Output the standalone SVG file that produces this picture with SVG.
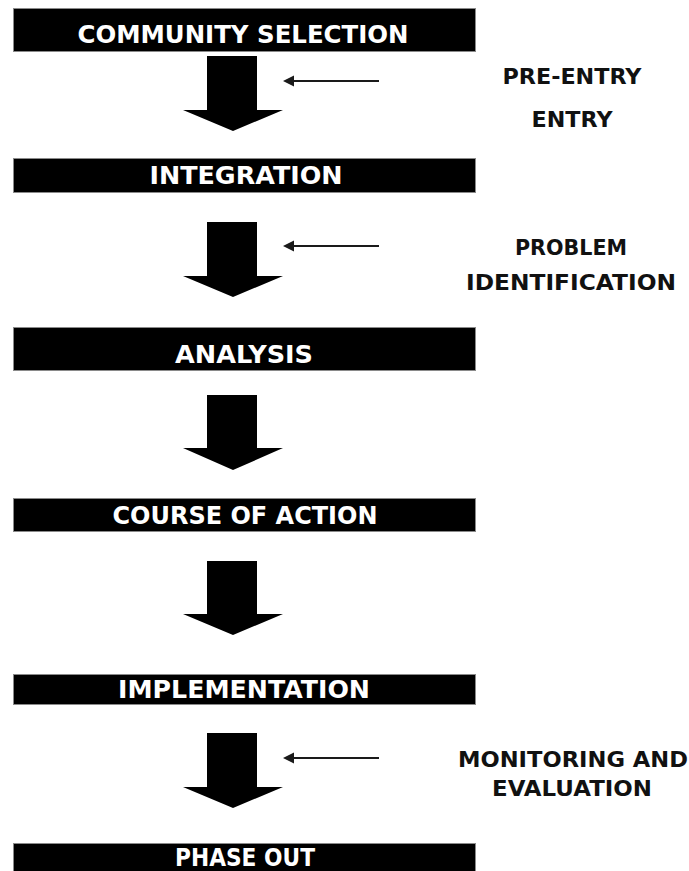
<svg xmlns="http://www.w3.org/2000/svg" width="689" height="871" viewBox="0 0 689 871">
  <style>
    .bar { fill: #000; stroke: #8a8a8a; stroke-width: 1; }
    .bar-label { fill: #fff; font-family: "DejaVu Sans", Verdana, sans-serif; font-weight: bold; font-size: 25px; text-anchor: middle; }
    .side-label { fill: #111; font-family: "DejaVu Sans", Verdana, sans-serif; font-weight: bold; font-size: 21px; text-anchor: middle; }
    .flow { fill: #000; }
    .pointer { stroke: #1a1a1a; stroke-width: 2.2; fill: none; }
    .pointer-head { fill: #1a1a1a; }
  </style>
  <rect width="689" height="871" fill="#fff"/>

  <!-- stages -->
  <g id="community-selection">
    <rect class="bar" x="13.5" y="8.5" width="462" height="43"/>
    <text class="bar-label" x="243" y="43" textLength="331" lengthAdjust="spacingAndGlyphs">COMMUNITY SELECTION</text>
  </g>
  <g id="integration">
    <rect class="bar" x="13.5" y="158.5" width="462" height="34"/>
    <text class="bar-label" x="246" y="184" textLength="193" lengthAdjust="spacingAndGlyphs">INTEGRATION</text>
  </g>
  <g id="analysis">
    <rect class="bar" x="13.5" y="327.5" width="462" height="43"/>
    <text class="bar-label" x="244" y="363" textLength="138" lengthAdjust="spacingAndGlyphs">ANALYSIS</text>
  </g>
  <g id="course-of-action">
    <rect class="bar" x="13.5" y="498.5" width="462" height="33"/>
    <text class="bar-label" x="245" y="524" textLength="265" lengthAdjust="spacingAndGlyphs">COURSE OF ACTION</text>
  </g>
  <g id="implementation">
    <rect class="bar" x="13.5" y="674.5" width="462" height="30"/>
    <text class="bar-label" x="244" y="698" textLength="252" lengthAdjust="spacingAndGlyphs">IMPLEMENTATION</text>
  </g>
  <g id="phase-out">
    <rect class="bar" x="13.5" y="843.5" width="462" height="32"/>
    <text class="bar-label" x="245" y="866" textLength="140" lengthAdjust="spacingAndGlyphs">PHASE OUT</text>
  </g>

  <!-- side notes -->
  <g id="note-entry">
    <text class="side-label" x="572" y="84" textLength="139" lengthAdjust="spacingAndGlyphs">PRE-ENTRY</text>
    <text class="side-label" x="572" y="127" textLength="81" lengthAdjust="spacingAndGlyphs">ENTRY</text>
  </g>
  <g id="note-problem">
    <text class="side-label" x="571" y="255" textLength="112" lengthAdjust="spacingAndGlyphs">PROBLEM</text>
    <text class="side-label" x="571" y="290" textLength="210" lengthAdjust="spacingAndGlyphs">IDENTIFICATION</text>
  </g>
  <g id="note-monitoring">
    <text class="side-label" x="573" y="767" textLength="230" lengthAdjust="spacingAndGlyphs">MONITORING AND</text>
    <text class="side-label" x="572" y="796" textLength="160" lengthAdjust="spacingAndGlyphs">EVALUATION</text>
  </g>

  <!-- connectors -->
  <g id="connectors">
    <path class="flow" d="M207,56 H257 V110 H283 L233,131 L183,110 H207 Z"/>
    <path class="flow" d="M207,222 H257 V276 H283 L233,297 L183,276 H207 Z"/>
    <path class="flow" d="M207,395 H257 V448 H283 L233,470 L183,448 H207 Z"/>
    <path class="flow" d="M207,561 H257 V614 H283 L233,635 L183,614 H207 Z"/>
    <path class="flow" d="M207,733 H257 V787 H283 L233,808 L183,787 H207 Z"/>

    <line class="pointer" x1="379" y1="81" x2="290" y2="81"/>
    <polygon class="pointer-head" points="283,81 294,75.5 294,86.5"/>
    <line class="pointer" x1="379" y1="246" x2="290" y2="246"/>
    <polygon class="pointer-head" points="283,246 294,240.5 294,251.5"/>
    <line class="pointer" x1="379" y1="758" x2="290" y2="758"/>
    <polygon class="pointer-head" points="283,758 294,752.5 294,763.5"/>
  </g>
</svg>
